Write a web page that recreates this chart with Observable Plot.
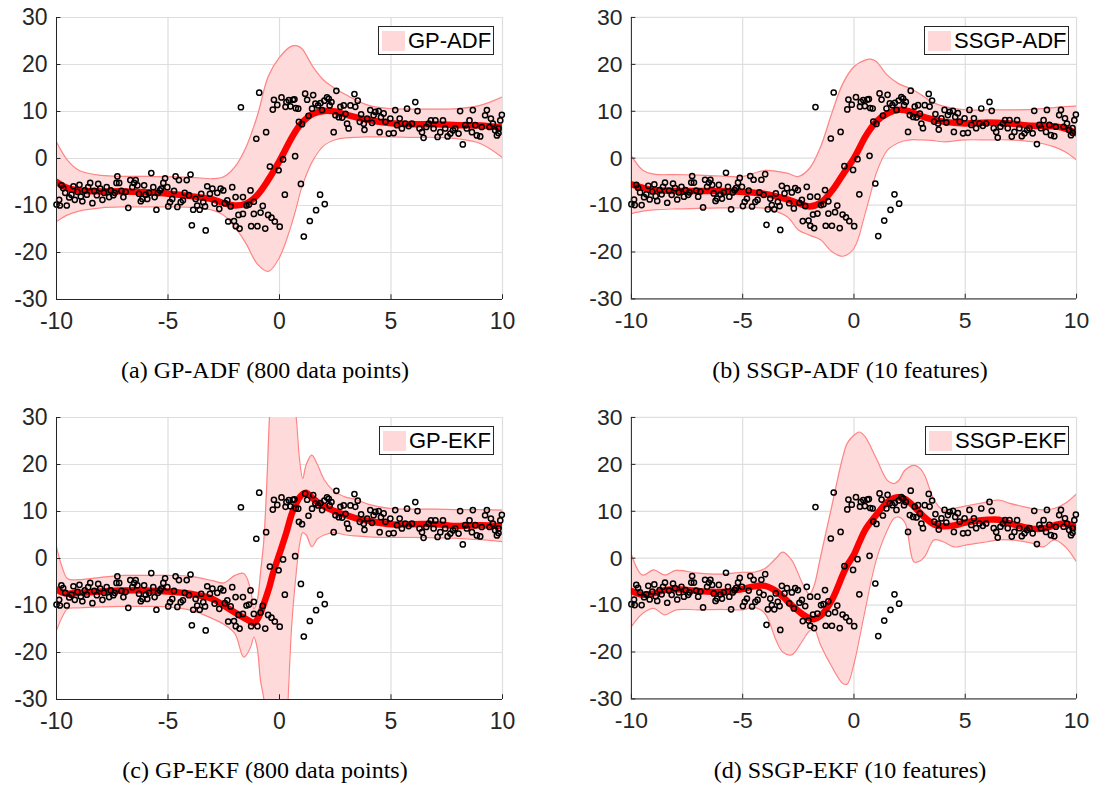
<!DOCTYPE html>
<html><head><meta charset="utf-8">
<script src="https://cdn.jsdelivr.net/npm/d3@7"></script>
<script src="https://cdn.jsdelivr.net/npm/@observablehq/plot@0.6"></script>
<style>
body{margin:0;background:#fff;width:1096px;height:787px;position:relative;overflow:hidden;font-family:"Liberation Sans",Arial,sans-serif}
.panel{position:absolute}
.cap{position:absolute;width:440px;text-align:center;font-family:"Liberation Serif","Times New Roman",serif;font-size:24px;line-height:24px;color:#000;white-space:nowrap}
.legend{position:absolute;border:1px solid #262626;background:#fff;height:29px;display:flex;align-items:center;font-size:22px;color:#000;box-sizing:border-box;white-space:nowrap}
.legend .sw{width:23px;height:20px;background:#ffd9d9;margin-left:3px;margin-right:3px;flex:none}
</style></head><body>
<script>
// ---- shared observations (same in all four panels) ----
const pointX = [
-10.0,-9.85,-9.88,-9.78,-9.70,-9.61,-9.54,-9.43,-9.33,-9.24,
-9.18,-9.06,-8.97,-8.91,-8.84,-8.73,-8.64,-8.58,-8.49,-8.39,
-8.31,-8.19,-8.13,-8.04,-7.94,-7.87,-7.75,-7.64,-7.57,-7.45,
-7.39,-7.27,-7.31,-7.19,-7.09,-7.00,-6.90,-6.78,-6.69,-6.60,
-6.52,-6.45,-6.37,-6.30,-6.22,-6.15,-6.07,-6.00,-5.93,-5.85,
-5.75,-5.66,-5.60,-5.52,-5.45,-5.36,-5.30,-5.21,-5.13,-5.03,
-4.99,-4.91,-4.81,-4.73,-4.66,-4.58,-4.51,-4.43,-4.33,-4.25,
-4.16,-4.06,-3.99,-3.93,-3.87,-3.76,-3.69,-3.58,-3.51,-3.42,
-3.34,-3.31,-3.24,-3.12,-3.01,-2.91,-2.79,-2.70,-2.64,-2.52,
-2.45,-2.34,-2.19,-2.12,
-2.30,-2.04,-1.97,-1.96,-1.84,-1.79,-1.73,-1.64,-1.64,-1.48,
-1.37,-1.30,-1.27,-1.15,-1.15,-1.04,-0.99,-0.91,-0.85,-0.75,
-0.64,-0.60,-0.51,-0.43,-0.36,-0.30,-0.25,-0.21,-0.10,-0.04,
0.01,0.09,0.16,0.24,0.27,0.31,0.42,0.49,0.60,0.67,
0.70,0.73,0.84,0.87,0.96,1.01,1.09,1.15,1.24,1.30,
1.36,1.46,1.51,1.61,1.64,1.73,1.82,1.84,1.91,2.01,
2.03,2.13,
2.21,2.25,2.33,2.43,2.51,2.55,2.66,2.73,2.81,2.88,
2.96,3.03,3.10,3.18,3.36,3.40,3.51,3.60,3.66,3.78,
3.81,3.93,4.07,4.15,4.22,4.30,4.45,4.49,4.55,4.67,
4.75,4.90,4.97,5.12,5.19,5.27,5.39,5.49,5.64,5.72,
5.79,5.94,6.09,6.19,6.28,6.39,6.46,6.58,6.69,6.79,
6.91,6.99,7.09,7.21,7.33,7.43,7.54,7.66,7.78,7.88,
8.03,8.10,8.22,8.33,8.40,8.52,8.63,8.67,8.78,8.85,
9.00,9.07,9.22,9.30,9.42,9.48,9.57,9.67,9.75,9.82,
9.82,9.90,9.97
];
const pointY = [
-9.8,-10.0,-8.8,-5.7,-6.3,-7.3,-10.0,-8.3,-7.7,-5.9,
-8.8,-7.1,-5.6,-8.1,-9.1,-6.8,-7.7,-6.1,-5.2,-9.5,
-6.9,-7.8,-5.4,-6.4,-8.8,-7.3,-6.1,-8.2,-6.8,-7.8,
-7.3,-3.8,-5.2,-5.2,-6.9,-8.2,-7.1,-10.5,-4.6,-6.1,
-5.2,-4.6,-5.7,-7.5,-9.1,-8.6,-5.7,-7.7,-8.6,-7.3,
-3.1,-6.1,-8.2,-10.9,-7.3,-6.8,-6.4,-5.2,-4.2,-6.1,
-10.2,-9.3,-8.6,-6.9,-3.8,-10.3,-4.6,-9.3,-8.9,-7.3,
-4.6,-7.8,-3.4,-14.2,-10.9,-8.6,-10.0,-10.9,-7.5,-9.3,
-10.2,-15.3,-5.9,-7.5,-6.4,-9.6,-7.3,-10.7,-6.4,-6.8,
-9.5,-8.9,-10.2,-6.1,
-13.4,-13.3,-8.2,-14.4,-12.0,-14.9,10.9,-11.8,-8.2,-10.0,
-9.8,-6.8,-14.4,-11.8,-9.2,4.2,-14.4,14.0,-11.5,-10.1,
-14.9,5.6,-12.0,-1.7,-12.6,10.4,12.5,-13.4,11.4,-2.5,
-14.5,13.0,-0.2,-7.7,11.0,12.0,12.4,11.1,12.5,12.6,
0.5,10.7,10.6,7.8,-5.4,7.3,-16.6,13.8,12.5,9.1,
-13.3,10.6,13.5,11.7,-11.0,11.3,-7.7,11.8,10.3,12.3,
-9.7,13.0,
12.7,11.3,12.0,5.6,9.2,14.4,8.8,11.0,8.7,11.3,
9.5,7.4,6.4,11.3,13.7,11.0,12.3,7.8,9.4,7.4,
6.1,8.5,10.3,7.6,9.2,9.9,10.1,5.6,8.8,9.6,
7.8,5.3,8.5,5.4,10.3,7.1,8.5,6.4,7.4,10.6,
6.9,7.4,12.0,10.1,6.4,5.6,4.4,6.7,7.4,8.1,
6.4,8.1,4.6,5.6,8.1,6.4,4.7,5.3,6.0,6.4,
5.3,10.1,3.0,7.1,6.4,8.1,5.6,10.3,7.1,4.9,
4.7,6.7,9.2,10.3,6.7,8.5,7.4,6.0,4.9,6.4,
5.4,8.1,9.3
];

// ---- axis ticks ----
const xTicks = [-10, -5, 0, 5, 10];
const yTicks = [-30, -20, -10, 0, 10, 20, 30];

// ---- (a) GP-ADF ----
const gpAdfX     = [-10,-9.5,-9,-8,-7,-6,-5,-4,-3,-2.5,-2,-1.5,-1,-0.5,0,0.5,0.75,1,1.5,2,2.5,3,4,5,6,7,8,9,10];
const gpAdfMean  = [-5.0,-6.3,-6.8,-7.0,-7.0,-7.2,-7.5,-8.0,-8.7,-9.5,-10.0,-9.6,-7.8,-4.5,-0.5,4.0,6.0,7.6,9.5,10.1,10.0,9.3,8.2,7.5,7.3,7.3,7.1,7.0,6.6];
const gpAdfUpper = [3.5,-0.4,-2.5,-3.6,-3.8,-3.8,-3.9,-4.0,-4.3,-3.9,-1.8,2.4,9.0,17.5,21.5,23.8,24.0,23.4,19.5,16.6,14.9,13.5,11.3,10.6,10.5,10.5,10.6,11.3,13.1];
const gpAdfLower = [-13.4,-12.0,-11.2,-10.5,-10.3,-10.3,-10.3,-10.4,-11.0,-12.1,-14.6,-18.1,-22.4,-24.0,-21.0,-14.6,-10.5,-6.1,-0.4,2.8,4.0,4.4,4.6,4.6,4.5,4.5,4.2,3.2,0.2];

// ---- (b) SSGP-ADF ----
const ssgpAdfX     = [-10,-9.5,-9,-8,-7,-6,-5,-4,-3,-2.5,-2,-1.5,-1,-0.5,0,0.5,0.75,1,1.5,2,2.5,3,3.5,4,5,6,7,8,9,9.5,10];
const ssgpAdfMean  = [-5.6,-6.3,-6.8,-7.0,-7.0,-7.0,-7.2,-7.6,-8.8,-9.6,-10.3,-9.5,-7.0,-3.5,0.0,4.5,6.3,7.8,9.5,10.3,10.0,9.0,8.3,7.8,7.4,7.6,7.4,6.9,6.8,6.3,5.3];
const ssgpAdfUpper = [0.5,-2.5,-3.4,-3.5,-3.6,-3.8,-3.9,-2.6,-3.2,-3.9,-2.2,2.4,9.5,15.9,19.5,20.9,21.1,20.6,17.7,15.9,14.9,13.6,12.0,11.1,10.3,10.3,10.3,10.4,10.8,11.0,11.1];
const ssgpAdfLower = [-11.8,-11.3,-11.0,-10.8,-10.7,-10.6,-10.6,-10.7,-12.5,-15.3,-16.4,-17.4,-19.9,-20.9,-19.2,-11.8,-7.5,-3.2,1.7,3.3,3.9,3.9,3.8,3.5,3.9,3.9,3.9,3.5,2.4,1.3,-0.4];

// ---- (c) GP-EKF ----
const gpEkfX     = [-10,-9.75,-9.5,-9,-8,-7,-6,-5,-4,-3,-2.5,-2,-1.6,-1.3,-1.15,-1,-0.85,-0.7,-0.55,-0.45,-0.3,0,0.3,0.55,0.75,0.9,1.04,1.2,1.45,1.7,2,2.4,3,3.4,4,5,6,7,8,9,10];
const gpEkfMean  = [-6.6,-7.2,-7.5,-7.3,-7.0,-6.8,-6.8,-7.0,-7.5,-8.6,-10.0,-11.5,-12.6,-13.4,-13.8,-13.0,-11.6,-9.6,-7.5,-6.0,-3.3,1.0,5.4,9.5,11.7,13.0,13.7,14.0,13.0,12.0,11.1,10.2,9.2,8.6,8.0,7.3,7.3,7.3,6.9,7.1,6.9];
const gpEkfUpper = [2.4,-1.8,-4.3,-4.5,-4.0,-3.6,-3.6,-3.6,-3.8,-4.7,-5.2,-3.6,-3.2,-6.5,-10.7,-9.0,-3.0,4.0,18.0,30.0,40,46,44,38,30,21,17.0,20.0,22.0,20.0,16.8,14.5,13.0,12.6,11.5,10.6,10.5,10.5,10.4,10.4,10.3];
const gpEkfLower = [-15.3,-12.5,-10.7,-10.5,-10.3,-10.2,-10.2,-10.3,-11.0,-12.8,-14.0,-16.0,-21.0,-18.9,-16.7,-19.0,-26,-30,-42,-50,-56,-58,-38,-14,-3,3,5.5,5.0,2.5,4.2,5.0,5.5,5.0,4.8,4.6,4.5,4.5,4.4,4.3,4.0,3.6];

// ---- (d) SSGP-EKF ----
const ssgpEkfX     = [-10,-9.5,-9,-8.5,-8,-7,-6,-5,-4.5,-4,-3.5,-3.2,-2.8,-2.3,-2,-1.8,-1.5,-1,-0.5,-0.3,0,0.25,0.5,1,1.5,1.8,2,2.3,2.7,3,3.2,3.6,4,4.5,5,6,6.5,7,8,8.5,9,9.5,10];
const ssgpEkfMean  = [-7.0,-7.8,-7.5,-6.8,-6.6,-7.0,-7.2,-6.6,-6.0,-5.9,-7.0,-8.2,-10.0,-12.0,-12.8,-13.0,-12.3,-9.0,-3.5,-1.5,0.8,3.5,6.0,9.2,12.0,12.8,13.0,12.6,11.0,9.5,8.6,7.2,6.8,7.0,7.6,8.2,8.2,7.4,6.3,6.3,7.0,7.4,6.5];
const ssgpEkfUpper = [0.8,-3.6,-2.5,-3.6,-2.6,-3.2,-3.4,-3.0,-3.0,-2.2,0.0,1.3,-0.4,-5.5,-7.7,-6.0,0.3,11.0,21.6,24.5,26.2,26.9,25.9,21.3,16.6,15.9,16.5,18.8,19.8,19.0,17.4,12.4,10.3,10.6,11.1,12.0,12.4,11.7,10.6,10.3,10.6,11.7,13.7];
const ssgpEkfLower = [-14.6,-11.8,-10.7,-12.1,-11.0,-11.0,-10.9,-11.0,-10.5,-11.8,-17.5,-20.0,-20.6,-17.5,-15.5,-15.0,-18.5,-23.1,-26.7,-26.8,-22.5,-17.0,-11.1,-0.4,6.0,8.5,8.8,7.5,-0.8,-0.5,0.5,3.9,3.5,2.4,2.8,3.5,3.9,3.9,3.2,2.4,3.9,2.4,-0.8];

const panels = [
  {x: gpAdfX, mean: gpAdfMean, upper: gpAdfUpper, lower: gpAdfLower, left: 0, top: 0,
   legend: "GP-ADF", legendLeft: 378, legendWidth: 116, caption: "(a) GP-ADF (800 data points)", capCenter: 265},
  {x: ssgpAdfX, mean: ssgpAdfMean, upper: ssgpAdfUpper, lower: ssgpAdfLower, left: 575, top: 0,
   legend: "SSGP-ADF", legendLeft: 924, legendWidth: 145, caption: "(b) SSGP-ADF (10 features)", capCenter: 850},
  {x: gpEkfX, mean: gpEkfMean, upper: gpEkfUpper, lower: gpEkfLower, left: 0, top: 400,
   legend: "GP-EKF", legendLeft: 379, legendWidth: 115, caption: "(c) GP-EKF (800 data points)", capCenter: 265},
  {x: ssgpEkfX, mean: ssgpEkfMean, upper: ssgpEkfUpper, lower: ssgpEkfLower, left: 575, top: 400,
   legend: "SSGP-EKF", legendLeft: 925, legendWidth: 144, caption: "(d) SSGP-EKF (10 features)", capCenter: 850}
];

const points = pointX.map((x, i) => ({x, y: pointY[i]}));
const curve = "catmull-rom";
const fmt = d => String(d);

for (const p of panels) {
  const band = p.x.map((x, i) => ({x, mean: p.mean[i], upper: p.upper[i], lower: p.lower[i]}));
  const chart = Plot.plot({
    width: 522, height: 340,
    marginLeft: 56, marginRight: 20, marginTop: 17, marginBottom: 41,
    style: {fontFamily: '"Liberation Sans", Arial, sans-serif', fontSize: "23px", color: "#262626", background: "transparent", overflow: "visible"},
    x: {domain: [-10, 10], ticks: xTicks, tickSize: 0, tickPadding: 13, tickFormat: fmt, label: null},
    y: {domain: [-30, 30], ticks: yTicks, tickSize: 0, tickPadding: 9, tickFormat: fmt, label: null},
    marks: [
      Plot.ruleX(xTicks, {stroke: "#dedede", strokeWidth: 1.2}),
      Plot.ruleY(yTicks, {stroke: "#dedede", strokeWidth: 1.2}),
      Plot.areaY(band, {x: "x", y1: "lower", y2: "upper", fill: "#ffdada", curve, clip: true}),
      Plot.line(band, {x: "x", y: "upper", stroke: "#ff8585", strokeWidth: 1.2, curve, clip: true}),
      Plot.line(band, {x: "x", y: "lower", stroke: "#ff8585", strokeWidth: 1.2, curve, clip: true}),
      Plot.line(band, {x: "x", y: "mean", stroke: "#ff0000", strokeWidth: 6.5, curve, clip: true}),
      Plot.dot(points, {x: "x", y: "y", r: 2.6, stroke: "#000", strokeWidth: 1.5, fill: "none"}),
      Plot.ruleX([-10], {stroke: "#262626", strokeWidth: 1}),
      Plot.ruleY([-30], {stroke: "#262626", strokeWidth: 1}),
      Plot.ruleX(xTicks, {y1: -30, y2: -29, stroke: "#262626"}),
      Plot.ruleY(yTicks, {x1: -10, x2: -9.8, stroke: "#262626"})
    ]
  });
  const div = document.createElement("div");
  div.className = "panel";
  div.style.left = p.left + "px";
  div.style.top = p.top + "px";
  div.appendChild(chart);
  document.body.appendChild(div);

  const lg = document.createElement("div");
  lg.className = "legend";
  lg.style.left = p.legendLeft + "px";
  lg.style.top = (p.top + 26) + "px";
  lg.style.width = p.legendWidth + "px";
  const sw = document.createElement("span"); sw.className = "sw";
  const tx = document.createElement("span"); tx.textContent = p.legend;
  lg.appendChild(sw); lg.appendChild(tx);
  document.body.appendChild(lg);

  const cap = document.createElement("div");
  cap.className = "cap";
  cap.style.left = (p.capCenter - 220) + "px";
  cap.style.top = (p.top + 358) + "px";
  cap.textContent = p.caption;
  document.body.appendChild(cap);
}
</script>
</body></html>
